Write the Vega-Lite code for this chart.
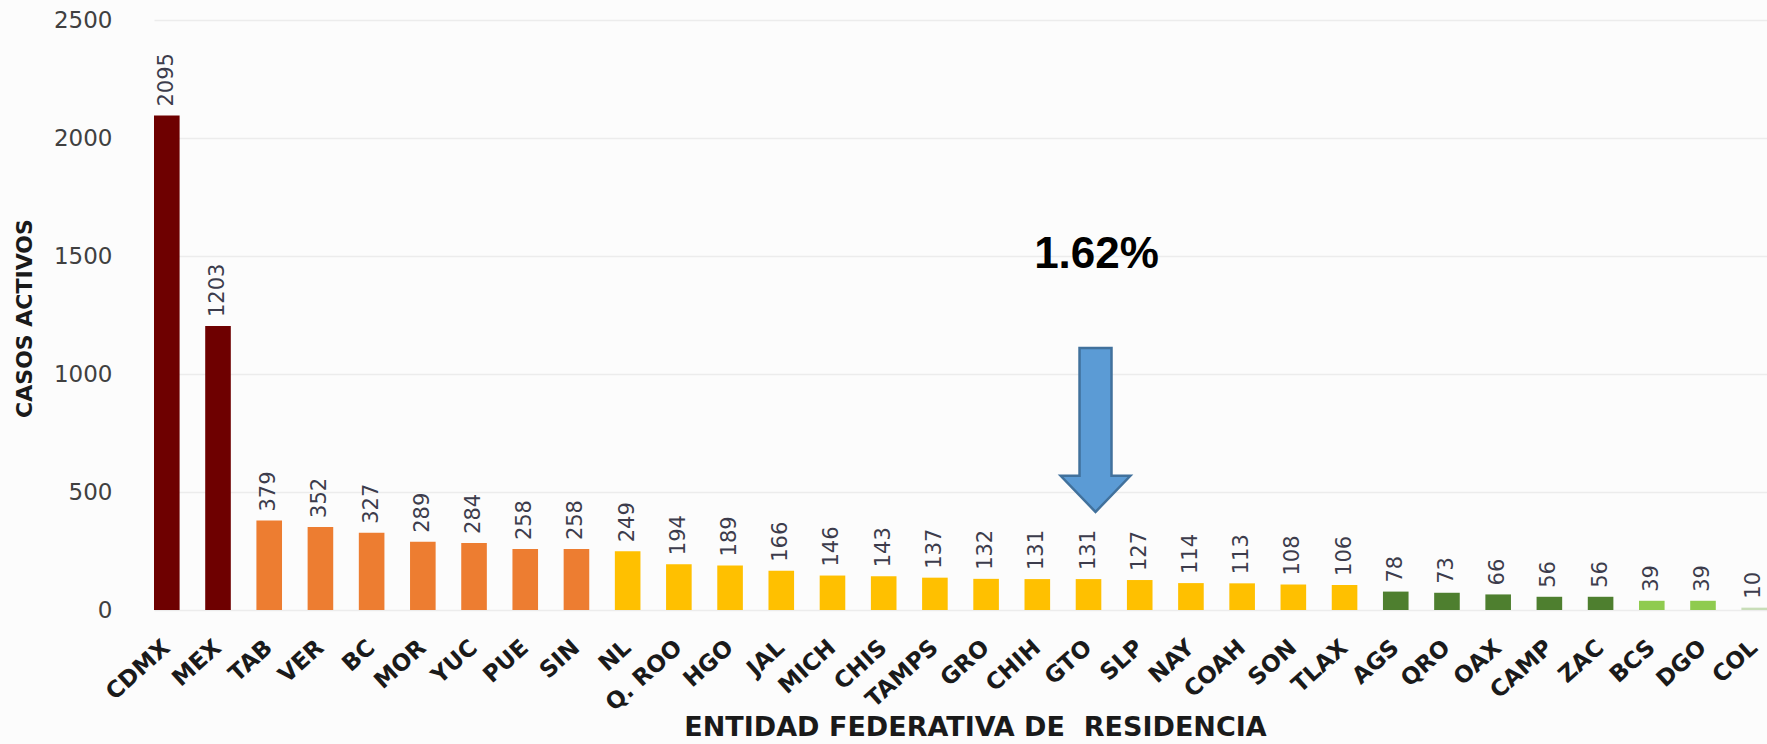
{
  "$schema": "https://vega.github.io/schema/vega-lite/v6.json",
  "autosize": {"type": "none"},
  "width": 1613,
  "height": 590,
  "padding": {"left": 154, "top": 20, "right": 0, "bottom": 134},
  "background": "#fcfcfc",
  "config": {
    "view": {"stroke": null},
    "font": "DejaVu Sans"
  },
  "datasets": {
    "casos": [
      {"estado": "CDMX", "casos": 2095, "grupo": "a"},
      {"estado": "MEX", "casos": 1203, "grupo": "a"},
      {"estado": "TAB", "casos": 379, "grupo": "b"},
      {"estado": "VER", "casos": 352, "grupo": "b"},
      {"estado": "BC", "casos": 327, "grupo": "b"},
      {"estado": "MOR", "casos": 289, "grupo": "b"},
      {"estado": "YUC", "casos": 284, "grupo": "b"},
      {"estado": "PUE", "casos": 258, "grupo": "b"},
      {"estado": "SIN", "casos": 258, "grupo": "b"},
      {"estado": "NL", "casos": 249, "grupo": "c"},
      {"estado": "Q. ROO", "casos": 194, "grupo": "c"},
      {"estado": "HGO", "casos": 189, "grupo": "c"},
      {"estado": "JAL", "casos": 166, "grupo": "c"},
      {"estado": "MICH", "casos": 146, "grupo": "c"},
      {"estado": "CHIS", "casos": 143, "grupo": "c"},
      {"estado": "TAMPS", "casos": 137, "grupo": "c"},
      {"estado": "GRO", "casos": 132, "grupo": "c"},
      {"estado": "CHIH", "casos": 131, "grupo": "c"},
      {"estado": "GTO", "casos": 131, "grupo": "c"},
      {"estado": "SLP", "casos": 127, "grupo": "c"},
      {"estado": "NAY", "casos": 114, "grupo": "c"},
      {"estado": "COAH", "casos": 113, "grupo": "c"},
      {"estado": "SON", "casos": 108, "grupo": "c"},
      {"estado": "TLAX", "casos": 106, "grupo": "c"},
      {"estado": "AGS", "casos": 78, "grupo": "d"},
      {"estado": "QRO", "casos": 73, "grupo": "d"},
      {"estado": "OAX", "casos": 66, "grupo": "d"},
      {"estado": "CAMP", "casos": 56, "grupo": "d"},
      {"estado": "ZAC", "casos": 56, "grupo": "d"},
      {"estado": "BCS", "casos": 39, "grupo": "e"},
      {"estado": "DGO", "casos": 39, "grupo": "e"},
      {"estado": "COL", "casos": 10, "grupo": "f"}
    ],
    "nota": [
      {"estado": "GTO", "flecha": 763, "texto_y": 1505, "texto": "1.62%"}
    ]
  },
  "layer": [
    {
      "data": {"name": "casos"},
      "mark": {"type": "bar"},
      "encoding": {
        "x": {
          "field": "estado", "type": "nominal", "sort": null,
          "scale": {"paddingInner": 0.5, "paddingOuter": 0},
          "axis": {
            "title": "ENTIDAD FEDERATIVA DE\u00a0 RESIDENCIA",
            "titleFont": "DejaVu Sans", "titleFontSize": 27, "titleFontWeight": "bold",
            "titleColor": "#1a1a1a", "titleX": 821, "titleY": 117, "titleBaseline": "middle", "titleAlign": "center",
            "labelAngle": -42, "labelAlign": "right", "labelBaseline": "middle",
            "labelFont": "DejaVu Sans", "labelFontSize": 23, "labelFontWeight": "bold",
            "labelColor": "#1a1a1a", "labelPadding": 34, "labelOverlap": false,
            "ticks": false, "tickSize": 0, "domain": false, "grid": false
          }
        },
        "y": {
          "field": "casos", "type": "quantitative",
          "scale": {"domain": [0, 2500], "nice": false},
          "axis": {
            "title": "CASOS ACTIVOS",
            "titleFont": "DejaVu Sans", "titleFontSize": 22, "titleFontWeight": "bold",
            "titleColor": "#1a1a1a", "titleX": -130, "titleY": 298, "titleAngle": 270,
            "titleBaseline": "middle", "titleAlign": "center",
            "values": [0, 500, 1000, 1500, 2000, 2500], "format": "d",
            "labelFont": "DejaVu Sans", "labelFontSize": 23, "labelColor": "#404040",
            "labelPadding": 42, "ticks": false, "tickSize": 0, "domain": false,
            "grid": true, "gridColor": "#ececec", "gridWidth": 1.5
          }
        },
        "color": {
          "field": "grupo", "type": "nominal", "legend": null,
          "scale": {
            "domain": ["a", "b", "c", "d", "e", "f"],
            "range": ["#6e0000", "#ED7D31", "#FFC000", "#4E7F2F", "#8FCB4F", "#C8DDB8"]
          }
        }
      }
    },
    {
      "data": {"name": "casos"},
      "mark": {"type": "text", "angle": 270, "align": "left", "baseline": "middle", "dx": 9,
               "font": "DejaVu Sans", "fontSize": 21, "color": "#3c3c4c"},
      "encoding": {
        "x": {"field": "estado", "type": "nominal", "sort": null},
        "y": {"field": "casos", "type": "quantitative"},
        "text": {"field": "casos", "type": "quantitative"}
      }
    },
    {
      "data": {"name": "nota"},
      "mark": {
        "type": "point", "filled": true, "opacity": 1,
        "shape": "M -0.195 -1 L 0.195 -1 L 0.195 0.56 L 0.425 0.56 L 0 1 L -0.425 0.56 L -0.195 0.56 Z",
        "size": 26896, "fill": "#5B9BD5", "stroke": "#41719C", "strokeWidth": 2.5, "xOffset": 7
      },
      "encoding": {
        "x": {"field": "estado", "type": "nominal", "sort": null},
        "y": {"field": "flecha", "type": "quantitative"}
      }
    },
    {
      "data": {"name": "nota"},
      "mark": {"type": "text", "align": "center", "baseline": "middle", "dx": 8,
               "font": "Liberation Sans", "fontSize": 44, "fontWeight": "bold", "color": "#000000"},
      "encoding": {
        "x": {"field": "estado", "type": "nominal", "sort": null},
        "y": {"field": "texto_y", "type": "quantitative"},
        "text": {"field": "texto", "type": "nominal"}
      }
    }
  ]
}
